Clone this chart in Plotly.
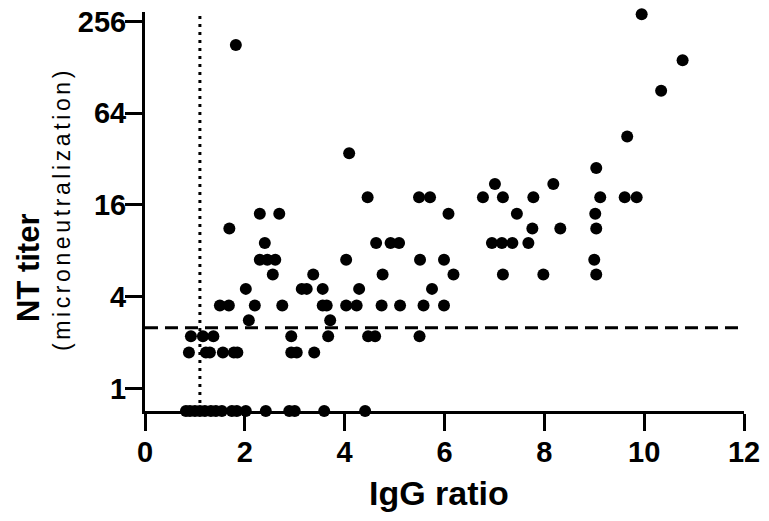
import numpy as np
import plotly.graph_objects as go

# ---- data ----
igg_ratio = [
    9.95, 10.77, 10.34, 9.66, 9.04, 1.82, 4.09,
    7.01, 8.18,
    4.46, 5.49, 5.71, 6.77, 7.17, 7.78, 9.12, 9.61, 9.85,
    2.30, 2.69, 6.08, 7.45, 9.02,
    1.69, 7.76, 8.32, 9.04,
    2.40, 4.63, 4.92, 5.09, 6.95, 7.15, 7.36, 7.68,
    2.30, 2.45, 2.61, 4.03, 5.51, 5.99, 9.00,
    2.56, 3.37, 4.76, 6.18, 7.17, 7.98, 9.04,
    2.02, 3.14, 3.24, 3.56, 4.29, 5.75,
    1.50, 1.68, 2.20, 2.75, 3.56, 3.64, 4.03, 4.24, 4.74, 5.11, 5.58, 5.99,
    2.08, 3.71,
    0.92, 1.16, 1.37, 2.93, 3.67, 4.47, 4.61, 5.50,
    0.88, 1.22, 1.30, 1.56, 1.78, 1.85, 2.93, 3.04, 3.39,
    0.82, 0.90, 1.00, 1.10, 1.20, 1.32, 1.42, 1.54, 1.74, 1.84, 2.02, 2.42, 2.89, 3.00, 3.59, 4.41,
]
nt_titer = (
    [286, 143, 90, 45, 28, 180, 35]
    + [22] * 2
    + [18] * 9
    + [14] * 5
    + [11.2] * 4
    + [9] * 8
    + [7] * 7
    + [5.6] * 7
    + [4.5] * 6
    + [3.5] * 12
    + [2.8] * 2
    + [2.2] * 8
    + [1.72] * 9
    + [0.71] * 16
)

x_ticks = [0, 2, 4, 6, 8, 10, 12]
y_ticks = [1, 4, 16, 64, 256]
y_tick_labels = ["1", "4", "16", "64", "256"]
nt_cutoff = 2.5        # horizontal dashed line
igg_cutoff = 1.1       # vertical dotted line
y_min, y_max = 0.71, 2 ** 8.21
x_min, x_max = 0, 12

FONT = "Arial, Liberation Sans, sans-serif"

fig = go.Figure()

# threshold lines
fig.add_trace(go.Scatter(
    x=[x_min, x_max], y=[nt_cutoff, nt_cutoff], mode="lines",
    line=dict(color="black", width=3, dash="13px,7px"),
    hoverinfo="skip", showlegend=False, cliponaxis=False,
))
fig.add_trace(go.Scatter(
    x=[igg_cutoff, igg_cutoff], y=[y_min, 2 ** 8.2], mode="lines",
    line=dict(color="black", width=3, dash="3px,5px"),
    hoverinfo="skip", showlegend=False, cliponaxis=False,
))

# data points
fig.add_trace(go.Scatter(
    x=igg_ratio, y=nt_titer, mode="markers",
    marker=dict(color="black", size=12, line=dict(width=0)),
    showlegend=False, cliponaxis=False,
))

fig.update_xaxes(
    range=[x_min, x_max], tickvals=x_ticks, ticktext=[str(v) for v in x_ticks],
    showline=True, linecolor="black", linewidth=3,
    ticks="outside", ticklen=17, tickwidth=3, tickcolor="black",
    showgrid=False, zeroline=False, automargin=False,
    tickfont=dict(family=FONT, size=29, color="black", weight="bold"),
    ticklabelstandoff=-4,
)
fig.update_yaxes(
    type="log", range=[np.log10(y_min), np.log10(y_max)],
    tickvals=y_ticks, ticktext=y_tick_labels,
    showline=True, linecolor="black", linewidth=3,
    ticks="outside", ticklen=17, tickwidth=3, tickcolor="black",
    showgrid=False, zeroline=False, automargin=False,
    tickfont=dict(family=FONT, size=29, color="black", weight="bold"),
    ticklabelstandoff=-7,
)

L, T, R, B = 145, 12, 744, 411

def shift(px, py):
    return dict(x=0, y=0, xref="paper", yref="paper",
                xshift=px - L, yshift=B - py,
                xanchor="center", yanchor="middle", showarrow=False)

fig.add_annotation(text="<b>NT titer</b>", textangle=-90,
                   font=dict(family=FONT, size=31, color="black"), **shift(28, 268))
fig.add_annotation(text='<span style="letter-spacing:3.6px">(microneutralization)</span>',
                   textangle=-90,
                   font=dict(family=FONT, size=23, color="black"), **shift(62, 209))
fig.add_annotation(text="<b>IgG ratio</b>",
                   font=dict(family=FONT, size=34, color="black"), **shift(439, 493))

fig.update_layout(
    template="none",
    width=769, height=521,
    margin=dict(l=L, r=769 - R, t=T, b=521 - B, pad=0, autoexpand=False),
    paper_bgcolor="white", plot_bgcolor="white",
    showlegend=False,
)

fig.write_html(
    "out.html",
    config={"displayModeBar": False},
    post_script="document.body.style.margin='0px';document.body.style.padding='0px';",
)
